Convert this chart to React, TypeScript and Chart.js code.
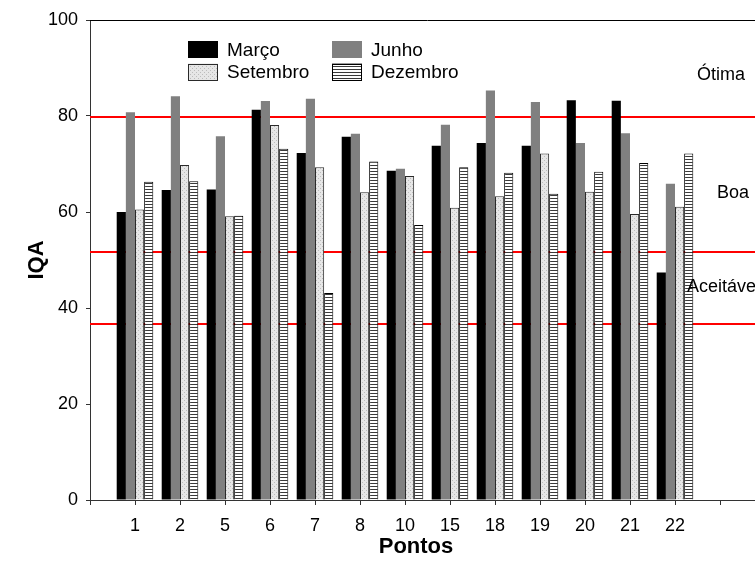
import React, { useEffect, useRef } from 'react';
import { Chart, registerables } from 'chart.js';

Chart.register(...registerables);

const categories = ['1', '2', '5', '6', '7', '8', '10', '15', '18', '19', '20', '21', '22'];
const marco = [60.0, 64.6, 64.7, 81.3, 72.3, 75.7, 68.6, 73.8, 74.4, 73.8, 83.3, 83.2, 47.4];
const junho = [80.8, 84.1, 75.8, 83.1, 83.6, 76.3, 69.0, 78.2, 85.3, 82.9, 74.4, 76.4, 65.9];
const setembro = [60.5, 69.8, 59.1, 78.1, 69.3, 64.1, 67.5, 60.9, 63.3, 72.2, 64.2, 59.6, 61.1];
const dezembro = [66.3, 66.4, 59.2, 73.2, 43.1, 70.5, 57.3, 69.3, 68.2, 63.8, 68.4, 70.2, 72.2];
const seriesNames = ['Março', 'Junho', 'Setembro', 'Dezembro'];
const yTickValues = [0, 20, 40, 60, 80, 100];
const limitValues = [79.8, 51.7, 36.7];
const classNames = ['Ótima', 'Boa', 'Aceitável'];
const classValues = [88.5, 64, 44.3];
const xTitle = 'Pontos';
const yTitle = 'IQA';

const FONT = '"Liberation Sans", Arial, sans-serif';

function makeDotPattern(): CanvasPattern | string {
  const c = document.createElement('canvas');
  c.width = 4;
  c.height = 4;
  const g = c.getContext('2d');
  if (!g) return '#dcdcdc';
  g.fillStyle = '#e6e6e6';
  g.fillRect(0, 0, 4, 4);
  g.fillStyle = '#bcbcbc';
  g.fillRect(0, 0, 1, 1);
  g.fillRect(2, 2, 1, 1);
  const p = g.createPattern(c, 'repeat');
  return p || '#dcdcdc';
}

function makeLinePattern(): CanvasPattern | string {
  const c = document.createElement('canvas');
  c.width = 4;
  c.height = 3;
  const g = c.getContext('2d');
  if (!g) return '#aaaaaa';
  g.fillStyle = '#ffffff';
  g.fillRect(0, 0, 4, 3);
  g.fillStyle = '#3a3a3a';
  g.fillRect(0, 0, 4, 1);
  const p = g.createPattern(c, 'repeat');
  return p || '#aaaaaa';
}

export default function App() {
  const ref = useRef<HTMLCanvasElement | null>(null);

  useEffect(() => {
    const canvas = ref.current;
    if (!canvas) return;
    const dots = makeDotPattern();
    const lines = makeLinePattern();
    const labels = ['', ...categories, '', ''];
    const pad = (arr: number[]) => [null, ...arr, null, null];

    const fills: any[] = ['#000000', '#808080', dots, lines];
    const borders = ['#000000', '#808080', '#2a2a2a', '#000000'];
    const bws = [0, 0, 1, 1];
    const values = [marco, junho, setembro, dezembro];

    const decor = {
      id: 'decor',
      beforeDatasetsDraw(chart: any) {
        const { ctx, chartArea, scales } = chart;
        const y = scales.y;
        ctx.save();
        ctx.strokeStyle = '#ff0000';
        ctx.lineWidth = 2;
        limitValues.forEach((v) => {
          const py = Math.round(y.getPixelForValue(v));
          ctx.beginPath();
          ctx.moveTo(chartArea.left, py);
          ctx.lineTo(chartArea.right, py);
          ctx.stroke();
        });
        ctx.restore();
      },
      afterDraw(chart: any) {
        const { ctx, chartArea, scales } = chart;
        const x = scales.x;
        const y = scales.y;
        ctx.save();
        // top frame
        ctx.strokeStyle = '#000000';
        ctx.lineWidth = 1;
        ctx.beginPath();
        ctx.moveTo(chartArea.left, chartArea.top + 0.5);
        ctx.lineTo(chartArea.right, chartArea.top + 0.5);
        ctx.stroke();

        // class labels
        ctx.fillStyle = '#000000';
        ctx.font = `18px ${FONT}`;
        ctx.textBaseline = 'middle';
        const xc = x.getPixelForValue(14);
        ctx.textAlign = 'center';
        ctx.fillText(classNames[0], xc + 1, y.getPixelForValue(classValues[0]));
        ctx.fillText(classNames[1], xc + 13, y.getPixelForValue(classValues[1]));
        ctx.textAlign = 'left';
        ctx.fillText(classNames[2], xc - 33, y.getPixelForValue(classValues[2]));

        // legend
        const sw = 30;
        const sh = 17;
        const cols = [188, 332];
        const rows = [49.5, 72];
        seriesNames.forEach((name, i) => {
          const cx = cols[i % 2];
          const cy = rows[Math.floor(i / 2)];
          ctx.fillStyle = fills[i];
          ctx.fillRect(cx, cy - sh / 2, sw, sh);
          if (bws[i] > 0) {
            ctx.strokeStyle = borders[i];
            ctx.lineWidth = 1;
            ctx.strokeRect(cx + 0.5, Math.round(cy - sh / 2) + 0.5, sw - 1, sh - 1);
          }
          ctx.fillStyle = '#000000';
          ctx.textAlign = 'left';
          ctx.textBaseline = 'middle';
          ctx.font = `19px ${FONT}`;
          ctx.fillText(name, cx + sw + 9, cy + 1);
        });

        // axis titles
        ctx.font = `bold 22px ${FONT}`;
        ctx.fillStyle = '#000000';
        ctx.textAlign = 'center';
        ctx.textBaseline = 'middle';
        ctx.fillText(xTitle, 416, 547);
        ctx.translate(37, (chartArea.top + chartArea.bottom) / 2);
        ctx.rotate(-Math.PI / 2);
        ctx.fillText(yTitle, 0, 0);
        ctx.restore();
      },
    };

    const chart = new Chart(canvas, {
      type: 'bar',
      data: {
        labels,
        datasets: seriesNames.map((name, i) => ({
          label: name,
          data: pad(values[i]) as any,
          backgroundColor: fills[i],
          borderColor: borders[i],
          borderWidth: bws[i],
          categoryPercentage: 0.813,
          barPercentage: 1,
        })),
      },
      options: {
        responsive: false,
        animation: false,
        layout: { padding: { top: 20, right: 10, left: 0, bottom: 0 } },
        plugins: {
          legend: { display: false },
          tooltip: { enabled: false },
          title: { display: false },
        },
        scales: {
          x: {
            type: 'category',
            offset: false,
            grid: {
              offset: false,
              drawOnChartArea: false,
              drawTicks: true,
              tickLength: 5,
              tickColor: '#333333',
            },
            border: { display: true, color: '#333333', width: 1 },
            ticks: {
              autoSkip: false,
              maxRotation: 0,
              minRotation: 0,
              padding: 10,
              color: '#000000',
              font: { family: FONT, size: 18 },
            },
            afterFit: (s: any) => {
              s.height = 65;
            },
          },
          y: {
            min: 0,
            max: 100,
            afterBuildTicks: (s: any) => {
              s.ticks = yTickValues.map((v) => ({ value: v }));
            },
            grid: {
              drawOnChartArea: false,
              drawTicks: true,
              tickLength: 4,
              tickColor: '#333333',
            },
            border: { display: true, color: '#333333', width: 1 },
            ticks: {
              padding: 8,
              color: '#000000',
              font: { family: FONT, size: 18 },
            },
            afterFit: (s: any) => {
              s.width = 90;
            },
          },
        },
      },
      plugins: [decor],
    });

    return () => chart.destroy();
  }, []);

  return (
    <div
      style={{
        position: 'fixed',
        left: 0,
        top: 0,
        width: 755,
        height: 565,
        overflow: 'hidden',
        background: '#ffffff',
      }}
    >
      <canvas ref={ref} width={775} height={565} style={{ width: 775, height: 565, display: 'block' }} />
    </div>
  );
}
